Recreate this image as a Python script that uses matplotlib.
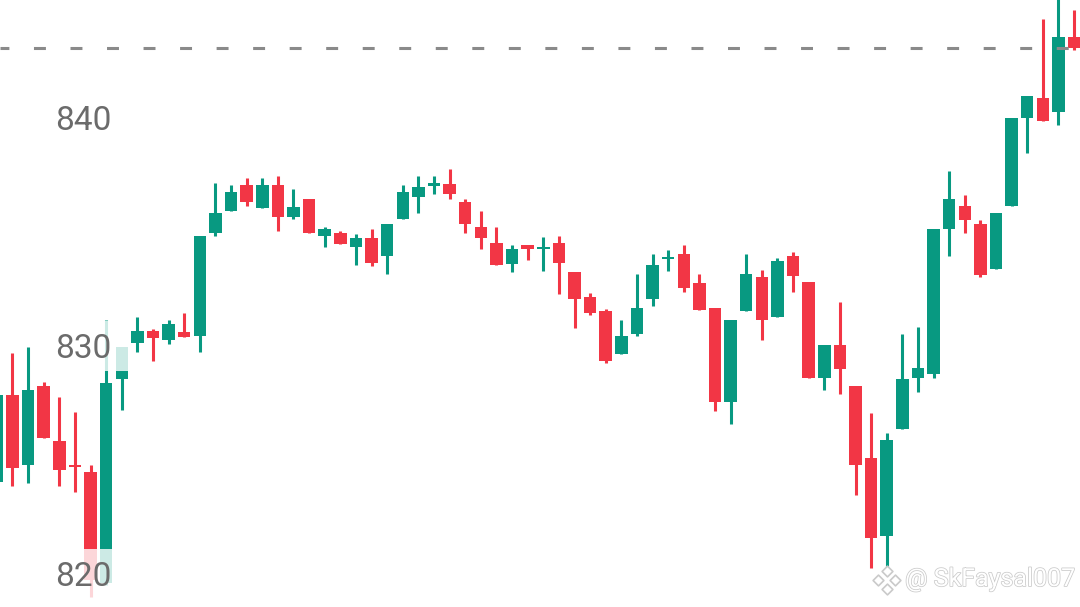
import numpy as np
import matplotlib
matplotlib.use('Agg')
import matplotlib.pyplot as plt
import matplotlib.patheffects as pe
from matplotlib.patches import Rectangle
from matplotlib.transforms import blended_transform_factory

# OHLC (una vela por entrada)
opens = [824.05, 827.85, 824.80, 828.25, 825.83, 824.78, 824.47, 819.60, 828.55, 830.13,
         830.66, 830.26, 830.60, 830.44, 834.96, 835.92, 837.06, 836.05, 837.06, 835.66,
         836.45, 834.82, 834.96, 834.34, 834.74, 833.95, 835.57, 836.54, 837.02, 837.10,
         836.32, 835.22, 834.52, 833.60, 834.43, 834.25, 834.52, 833.25, 832.15, 831.54,
         829.65, 830.53, 832.06, 833.82, 834.04, 832.76, 831.67, 827.54, 831.54, 833.03,
         831.27, 833.95, 832.81, 828.60, 830.04, 828.25, 825.09, 821.67, 826.36, 828.60,
         828.77, 835.13, 836.14, 835.35, 833.38, 836.14, 840.00, 840.88, 840.26, 843.55]
highs = [828.00, 829.70, 829.96, 828.40, 827.76, 827.10, 824.78, 831.14, 829.96, 831.27,
         830.75, 831.14, 831.45, 834.82, 837.15, 837.06, 837.37, 837.37, 837.46, 836.89,
         836.45, 835.22, 835.04, 834.91, 835.13, 835.35, 837.06, 837.46, 837.46, 837.76,
         836.45, 835.92, 835.22, 834.43, 834.43, 834.78, 834.82, 833.25, 832.32, 831.62,
         831.14, 833.16, 834.04, 834.20, 834.43, 833.16, 831.67, 831.14, 834.04, 833.33,
         833.86, 834.12, 832.81, 830.04, 831.93, 828.25, 827.06, 826.18, 830.53, 830.83,
         835.13, 837.68, 836.62, 835.53, 835.83, 840.00, 840.96, 844.34, 845.60, 844.74]
lows = [823.80, 823.85, 824.00, 825.96, 823.86, 823.60, 819.00, 819.50, 827.20, 829.74,
        829.34, 830.09, 830.40, 829.74, 834.82, 835.92, 836.14, 836.05, 835.04, 835.57,
        834.96, 834.34, 834.47, 833.55, 833.50, 833.16, 835.57, 835.83, 836.67, 836.45,
        834.96, 834.25, 833.55, 833.25, 833.77, 833.29, 832.28, 830.79, 831.36, 829.25,
        829.65, 830.44, 831.75, 833.29, 832.37, 831.58, 827.15, 826.58, 831.54, 830.26,
        831.27, 832.37, 828.60, 828.07, 827.90, 823.46, 820.26, 820.04, 826.36, 827.98,
        828.60, 833.95, 834.96, 833.03, 833.38, 836.14, 838.46, 839.87, 839.69, 842.98]
closes = [827.85, 824.65, 828.07, 825.96, 824.56, 824.69, 819.75, 828.38, 829.96, 830.66,
          830.35, 830.96, 830.40, 834.82, 835.83, 836.75, 836.32, 837.06, 835.66, 836.10,
          834.96, 835.13, 834.47, 834.74, 833.64, 835.35, 836.75, 836.97, 837.15, 836.67,
          835.35, 834.74, 833.55, 834.25, 834.25, 834.34, 833.64, 832.06, 831.45, 829.34,
          830.44, 831.67, 833.55, 833.90, 832.54, 831.58, 827.54, 831.14, 833.16, 831.14,
          833.73, 833.07, 828.60, 830.04, 828.99, 824.78, 821.58, 825.88, 828.55, 829.04,
          835.13, 836.45, 835.53, 833.11, 835.83, 840.00, 840.96, 839.87, 843.55, 843.07]
price_labels = [840, 830, 820]
watermark = '@ SkFaysal007'

GREEN = '#089981'
RED = '#F23645'
TXT = '#6b6b6b'

plt.rcParams['lines.scale_dashes'] = False

o = np.array(opens)
h = np.array(highs)
l = np.array(lows)
c = np.array(closes)
x = np.arange(len(o))
colors = np.where(c >= o, GREEN, RED)

fig = plt.figure(figsize=(10.8, 6.07), dpi=100)
ax = fig.add_axes([0, 0, 1, 1])
ax.set_axis_off()

# mechas y cuerpos
ax.vlines(x, l, h, colors=colors, lw=2.2, zorder=1)
bottom = np.minimum(o, c)
height = np.maximum(np.abs(c - o), 0.1)
ax.bar(x, height, bottom=bottom, width=0.8, color=colors, linewidth=0, zorder=2)

# linea del ultimo precio
ax.axhline(closes[-1], color='#8a8a8a', lw=2.2, linestyle=(2.2, (8.6, 17.7)), zorder=3)

ax.set_xlim(0.2, 69.38)
ax.set_ylim(818.55, 845.18)

# etiquetas de precio dentro del grafico
tr = blended_transform_factory(ax.transAxes, ax.transData)
for p in price_labels:
    ax.add_patch(Rectangle((0.037, p - 1.1), 0.083, 2.2, transform=tr,
                           facecolor='white', edgecolor='none', alpha=0.8, zorder=4))
    ax.text(0.051, p - 0.53, str(p), transform=tr, fontsize=24, color=TXT,
            va='baseline', ha='left', family='Roboto', zorder=5)

# marca de agua
ax.text(0.838, 0.046, watermark, transform=ax.transAxes, fontsize=18,
        color='white', va='center', ha='left', family='Roboto', zorder=6,
        path_effects=[pe.withStroke(linewidth=1.1, foreground='#cacaca')])
lx, ly = 0.821, 0.045
ax.scatter([lx, lx - 0.008, lx + 0.008, lx], [ly + 0.015, ly, ly, ly - 0.015],
           marker='D', s=30, facecolor='white', edgecolor='#cacaca', lw=1.2,
           transform=ax.transAxes, zorder=6)

fig.savefig('out.png', dpi=100)
